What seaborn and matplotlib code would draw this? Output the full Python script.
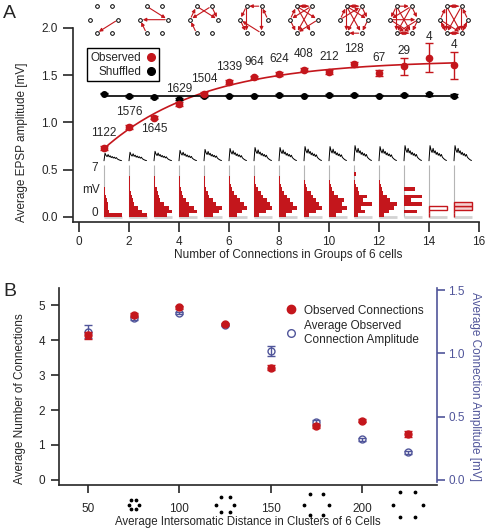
import numpy as np
import matplotlib
matplotlib.use("Agg")
import matplotlib.pyplot as plt
import seaborn as sns
from matplotlib.lines import Line2D
from matplotlib import transforms

sns.set_style("ticks")
plt.rcParams['font.family'] = ['Liberation Sans', 'DejaVu Sans']
plt.rcParams['font.size'] = 8.5

RED = '#c4161c'
BLUE = '#50559a'

# ---------------- panel A data ----------------
n_conn = list(range(1, 16))
obs_amp = [0.73, 0.955, 1.05, 1.195, 1.305, 1.425, 1.48, 1.51, 1.56, 1.535, 1.615, 1.525, 1.595, 1.685, 1.605]
obs_err = [0.02, 0.02, 0.015, 0.02, 0.015, 0.02, 0.015, 0.02, 0.02, 0.025, 0.03, 0.035, 0.09, 0.155, 0.14]
shuf_amp = [1.305, 1.28, 1.265, 1.25, 1.28, 1.285, 1.285, 1.29, 1.285, 1.29, 1.29, 1.285, 1.29, 1.30, 1.285]
shuf_err = [0.008, 0.008, 0.01, 0.01, 0.008, 0.008, 0.008, 0.008, 0.008, 0.008, 0.008, 0.008, 0.01, 0.015, 0.012]
n_groups = [1122, 1576, 1645, 1629, 1504, 1339, 964, 624, 408, 212, 128, 67, 29, 4, 4]

# EPSP amplitude histograms (0.5 mV bins from 0 mV), relative counts
hists = [
    [18, 5, 4, 4, 3, 2, 1, 1, 0.5, 0.5, 0.5, 0.5, 0.3, 0.3],
    [16, 12, 8, 5, 4, 3, 2, 1, 1, 0.5, 0.5, 0.3, 0.3, 0.3],
    [10, 14, 12, 8, 5, 4, 3, 2, 1, 0.5, 0.5, 0.3, 0.3],
    [9, 16, 14, 9, 6, 4, 3, 2, 1, 0.5, 0.5, 0.3],
    [8, 14, 16, 11, 8, 5, 4, 2, 1, 0.5, 0.5, 0.3],
    [7, 12, 16, 14, 10, 7, 5, 3, 2, 1, 0.5, 0.3],
    [5, 11, 16, 15, 12, 8, 6, 4, 2, 1, 0.5],
    [6, 12, 16, 13, 10, 7, 5, 3, 2, 1, 0.5],
    [5, 11, 16, 14, 11, 8, 6, 3, 2, 1],
    [6, 12, 16, 12, 14, 8, 5, 3, 2, 1],
    [4, 10, 6, 16, 8, 12, 5, 4, 2, 1, 0, 2],
    [5, 9, 14, 16, 10, 7, 4, 3, 2, 1],
    [0, 12, 0, 16, 6, 16, 0, 10],
    [0, 0, 16],
    [0, 0, 16, 16],
]
# normalised shape of the example EPSP train
trace_shape = [0.0, 1.0, 0.7, 0.55, 0.82, 0.52, 0.66, 0.42, 0.56, 0.36, 0.48, 0.3,
               0.42, 0.24, 0.16, 0.1, 0.05, 0.02]
trace_amp = [0.08, 0.09, 0.10, 0.11, 0.12, 0.13, 0.14, 0.14, 0.15, 0.15, 0.16, 0.15, 0.16, 0.16, 0.16]

# example connectivity diagrams (node 0 TL, 1 TR, 2 R, 3 BR, 4 BL, 5 L)
diagram_x = [1, 3, 5, 7, 9, 11, 13, 15]
diagram_edges = [
    [(2, 4)],
    [(0, 2), (2, 5), (4, 5)],
    [(0, 2), (1, 5), (5, 0), (4, 5), (1, 2)],
    [(1, 0), (0, 5), (5, 4), (0, 4), (1, 3), (3, 5), (2, 1)],
    [(0, 1), (1, 0), (0, 3), (1, 4), (5, 0), (0, 2), (2, 4), (5, 4), (1, 5)],
    [(0, 1), (1, 0), (0, 4), (1, 4), (0, 3), (1, 2), (2, 3), (5, 0), (3, 4), (0, 2), (5, 1)],
    [(0, 1), (0, 4), (1, 5), (5, 2), (0, 3), (1, 4), (2, 4), (4, 3), (3, 4), (5, 3), (0, 5), (1, 2), (2, 3)],
    [(0, 1), (1, 0), (0, 3), (1, 4), (5, 0), (5, 4), (5, 3), (4, 3), (3, 4), (2, 3), (1, 3),
     (0, 4), (4, 5), (3, 2), (2, 1)],
]

# ---------------- panel B data ----------------
distance = [50, 75, 100, 125, 150, 175, 200, 225]
n_connections = [4.13, 4.71, 4.93, 4.45, 3.21, 1.54, 1.69, 1.31]
n_conn_err = [0.1, 0.05, 0.05, 0.03, 0.07, 0.06, 0.04, 0.08]
conn_amp = [1.17, 1.28, 1.32, 1.225, 1.02, 0.455, 0.32, 0.22]
conn_amp_err = [0.05, 0.015, 0.01, 0.01, 0.04, 0.02, 0.015, 0.012]
icon_distance = [75, 125, 175, 225]
icon_size = [5, 9, 12.5, 15]


def exp_fit(x, y):
    """y = a - b*exp(-x/tau), tau by grid search"""
    best = None
    for tau in np.linspace(0.5, 10, 400):
        X = np.column_stack([np.ones_like(x), np.exp(-x / tau)])
        coef = np.linalg.lstsq(X, y, rcond=None)[0]
        sse = np.sum((X @ coef - y) ** 2)
        if best is None or sse < best[0]:
            best = (sse, tau, coef)
    _, tau, coef = best
    return lambda t: coef[0] + coef[1] * np.exp(-t / tau)


fig = plt.figure(figsize=(4.86, 5.3), dpi=100)

# ======================= Panel A =======================
axA = fig.add_axes([73 / 486, 1 - 222 / 530, 406 / 486, 194 / 530])
axA.set_xlim(-0.24, 16)
axA.set_ylim(-0.053, 2.0)
px_x = 406 / 16.24
px_y = 194 / 2.053

x = np.array(n_conn, dtype=float)
fit = exp_fit(x, np.array(obs_amp))
xf = np.linspace(1, 15, 200)
sns.lineplot(x=xf, y=fit(xf), color=RED, lw=1.2, ax=axA)
sns.lineplot(x=[1, 15], y=[np.mean(shuf_amp)] * 2, color='black', lw=1.2, ax=axA)

axA.errorbar(x, shuf_amp, yerr=shuf_err, fmt='o', color='black', ms=4, capsize=3,
             elinewidth=1, capthick=1, zorder=5)
axA.errorbar(x, obs_amp, yerr=obs_err, fmt='o', color=RED, ms=4.5, capsize=3,
             elinewidth=1, capthick=1, zorder=6)

for xi, yi, ei, n in zip(x, obs_amp, obs_err, n_groups):
    if xi == 3:
        ty = yi - 0.12
    else:
        ty = yi + max(0.16, ei + 0.07)
    axA.text(xi, ty, str(n), ha='center', va='center', fontsize=8.5)

# histograms and EPSP traces
hist_scale = 0.55 / 7.0   # data units per mV
t = np.linspace(0, 0.7, len(trace_shape))
for i, xi in enumerate(n_conn):
    axA.vlines(xi, 0, 0.55, color='#b5b5b5', lw=0.8, zorder=2)
    axA.hlines(-0.005, xi, xi + 0.7, color='#d3d3d3', lw=2, zorder=2)
    h = np.array(hists[i], dtype=float)
    lengths = 0.7 * h / h.max()
    bottoms = np.arange(len(h)) * 0.5 * hist_scale
    if xi >= 14:
        axA.barh(bottoms, lengths, height=0.5 * hist_scale, left=xi, align='edge',
                 facecolor='#f4d0d0' if xi == 15 else 'white', edgecolor=RED, lw=1, zorder=3)
    else:
        axA.barh(bottoms, lengths, height=0.5 * hist_scale, left=xi, align='edge',
                 color=RED, lw=0, zorder=3)
    axA.plot(xi + t, 0.595 + trace_amp[i] * np.array(trace_shape), color='black', lw=0.7)

axA.text(0.76, 0.52, '7', ha='right', va='center', fontsize=8.5)
axA.text(0.82, 0.285, 'mV', ha='right', va='center', fontsize=8.5)
axA.text(0.76, 0.04, '0', ha='right', va='center', fontsize=8.5)

# connectivity diagrams above the axes
node_dx = [-7.5, 7.5, 14, 7.5, -7.5, -14]
node_dy = [13.5, 13.5, 0, -13.5, -13.5, 0]
cy = 2.088
for cx, edges in zip(diagram_x, diagram_edges):
    nx = [cx + d / px_x for d in node_dx]
    ny = [cy + d / px_y for d in node_dy]
    for a, b in edges:
        axA.annotate('', xy=(nx[b], ny[b]), xytext=(nx[a], ny[a]), annotation_clip=False,
                     arrowprops=dict(arrowstyle='-|>', color=RED, lw=0.8, mutation_scale=5,
                                     shrinkA=2, shrinkB=2))
    axA.scatter(nx, ny, s=7, facecolor='white', edgecolor='black', linewidth=0.7,
                clip_on=False, zorder=10)

axA.set_xticks(range(0, 17, 2))
axA.set_yticks([0.0, 0.5, 1.0, 1.5, 2.0])
axA.set_yticklabels(['0.0', '0.5', '1.0', '1.5', '2.0'])
axA.set_xlabel('Number of Connections in Groups of 6 cells', fontsize=8.5)
axA.set_ylabel('Average EPSP amplitude [mV]', fontsize=8.5)
axA.xaxis.set_label_coords(0.53, -0.14)
axA.yaxis.set_label_coords(-0.111, 0.41)
axA.tick_params(axis='x', direction='out', length=7, width=1.2, labelsize=8.5, pad=3)
axA.tick_params(axis='y', direction='out', length=7, width=1.2, labelsize=8.5, pad=4)
for s in ['top', 'right']:
    axA.spines[s].set_visible(False)
for s in ['left', 'bottom']:
    axA.spines[s].set_linewidth(1.2)

legA = axA.legend(handles=[Line2D([], [], marker='o', color=RED, ls='', ms=5.5),
                           Line2D([], [], marker='o', color='black', ls='', ms=5.5)],
                  labels=['Observed', 'Shuffled'], loc='upper left', bbox_to_anchor=(0.02, 0.925),
                  markerfirst=False, frameon=True, fancybox=False, framealpha=1,
                  edgecolor='black', fontsize=8.5, handlelength=0.8, handletextpad=0.4,
                  borderpad=0.3, labelspacing=0.15)
legA.get_frame().set_linewidth(1.0)
legA.set_zorder(20)

fig.text(3 / 486, 1 - 14 / 530, 'A', fontsize=14, ha='left', va='center')

# ======================= Panel B =======================
axB = fig.add_axes([59 / 486, 1 - 485 / 530, 378 / 486, 197 / 530])
axB.set_xlim(34.13, 241.0)
axB.set_ylim(-0.143, 5.486)
axB2 = axB.twinx()
axB2.set_ylim(-0.0395, 1.516)

axB2.errorbar(distance, conn_amp, yerr=conn_amp_err, fmt='o', mfc='none', mec=BLUE, color=BLUE,
              ms=5, mew=1, capsize=3, elinewidth=1, capthick=1, zorder=4)
axB.errorbar(distance, n_connections, yerr=n_conn_err, fmt='o', color=RED, ms=5,
             capsize=3, elinewidth=1, capthick=1, zorder=3)
axB.set_zorder(axB2.get_zorder() + 1)
axB.patch.set_visible(False)

axB.set_xticks([50, 100, 150, 200])
axB.set_yticks(range(0, 6))
axB.set_xlabel('Average Intersomatic Distance in Clusters of 6 Cells', fontsize=8.3)
axB.set_ylabel('Average Number of Connections', fontsize=8.5)
axB.xaxis.set_label_coords(0.5, -0.155)
axB.yaxis.set_label_coords(-0.087, 0.44)
axB.tick_params(axis='x', direction='out', length=6, width=1.2, labelsize=8.5, pad=7)
axB.tick_params(axis='y', direction='out', length=6, width=1.2, labelsize=8.5, pad=4)
for s in ['top', 'right']:
    axB.spines[s].set_visible(False)
for s in ['left', 'bottom']:
    axB.spines[s].set_linewidth(1.2)

axB2.set_yticks([0.0, 0.5, 1.0, 1.5])
axB2.set_yticklabels(['0.0', '0.5', '1.0', '1.5'])
axB2.tick_params(axis='y', direction='out', length=6, width=1.2, labelsize=8.5, pad=2,
                 colors=BLUE)
axB2.set_ylabel('Average Connection Amplitude [mV]', fontsize=8.5, color=BLUE, rotation=270,
                ha='center', va='center')
axB2.yaxis.set_label_coords(1.1, 0.5)
for s in ['top', 'left', 'bottom']:
    axB2.spines[s].set_visible(False)
axB2.spines['right'].set_color(BLUE)
axB2.spines['right'].set_linewidth(1.2)
axB2.spines['right'].set_bounds(-0.015, 1.516)

axB.legend(handles=[Line2D([], [], marker='o', color=RED, ls='', ms=6),
                    Line2D([], [], marker='o', mfc='none', mec=BLUE, ls='', ms=5.5)],
           labels=['Observed Connections', 'Average Observed\nConnection Amplitude'],
           loc='upper left', bbox_to_anchor=(0.57, 0.97), frameon=False, fontsize=8.5,
           handlelength=1.0, handletextpad=0.6, labelspacing=0.3)

# dot-cluster icons under the x axis
blend = transforms.blended_transform_factory(axB.transData, axB.transAxes)
hex_dx = [-0.5, 0.5, 1.0, 0.5, -0.5, -1.0]
hex_dy = [0.85, 0.85, 0.0, -0.85, -0.85, 0.0]
for d, r in zip(icon_distance, icon_size):
    for dx, dy in zip(hex_dx, hex_dy):
        tr = blend + transforms.ScaledTranslation(dx * r / 100, dy * r / 100, fig.dpi_scale_trans)
        axB.scatter([d], [-0.1], s=3, color='black', transform=tr, clip_on=False, zorder=10)

fig.text(3 / 486, 1 - 292 / 530, 'B', fontsize=14, ha='left', va='center')

fig.savefig('out.png', dpi=100, facecolor='white')
